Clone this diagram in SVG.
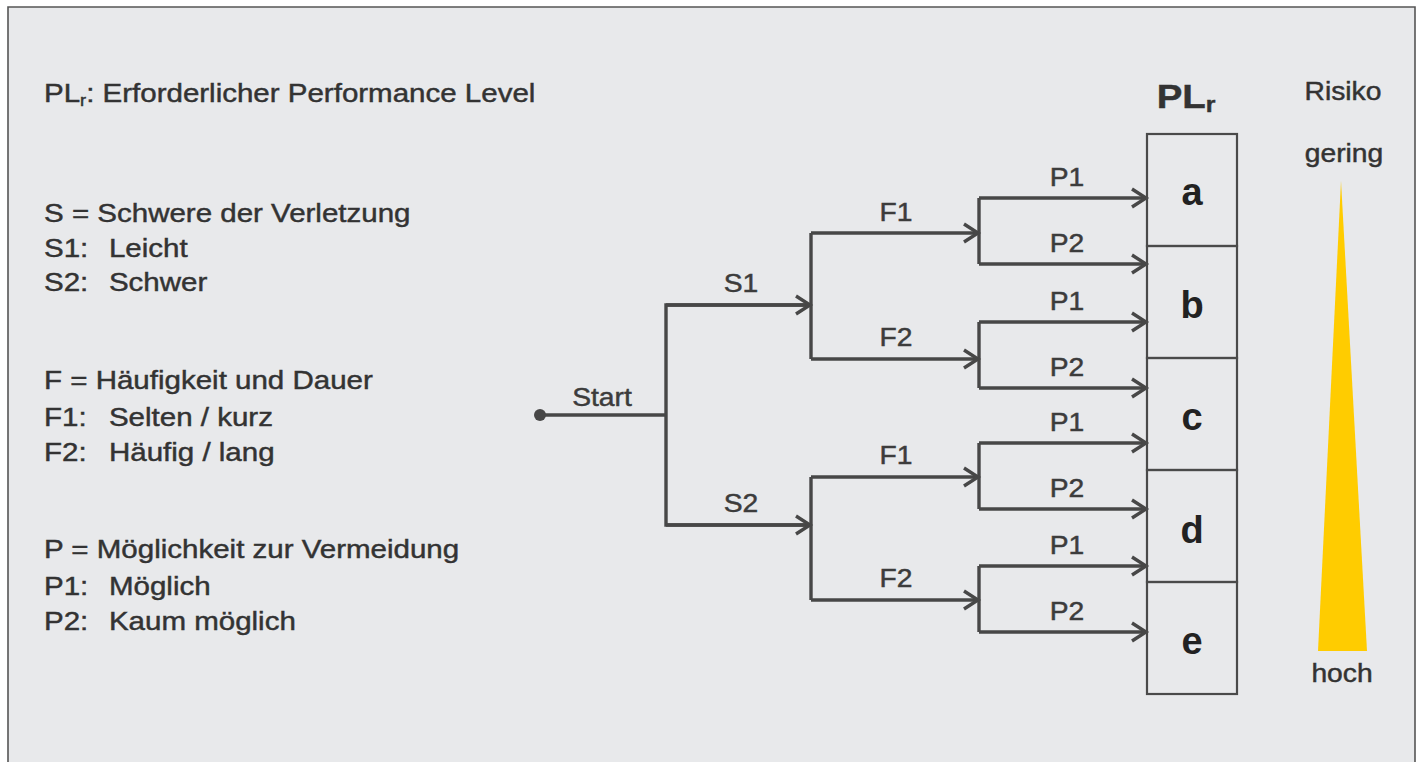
<svg xmlns="http://www.w3.org/2000/svg" width="1418" height="762" viewBox="0 0 1418 762">
<defs>
<marker id="arr" markerUnits="userSpaceOnUse" markerWidth="20" markerHeight="22" refX="16" refY="10" orient="auto" viewBox="0 0 20 20">
<path d="M2,1 L16,10 L2,19" fill="none" stroke="#474747" stroke-width="3.4"/>
</marker>
</defs>
<style>
.t{font-family:"Liberation Sans",Arial,sans-serif;fill:#333;stroke:#333;stroke-width:0.45;}
.leg{font-size:26px;}
.lbl{font-size:25px;text-anchor:middle;fill:#3c3c3c;stroke:#3c3c3c;}
.lvl{font-size:38px;font-weight:bold;text-anchor:middle;fill:#222;stroke:none;}
.ln{fill:none;stroke:#474747;stroke-width:3.4;}
.box{fill:none;stroke:#4a4a4a;stroke-width:2.2;}
</style>
<rect x="0" y="0" width="1418" height="762" fill="#fff"/>
<rect x="8" y="7" width="1407" height="760" fill="#e8e9eb"/>
<path d="M8,762 V7 H1415 V762" fill="none" stroke="#555" stroke-width="1.6"/>

<g id="legend" class="t leg" transform="scale(1.135,1)">
<text x="38.8" y="102">PL<tspan font-size="16" dy="4">r</tspan><tspan dy="-4">: Erforderlicher Performance Level</tspan></text>
<text x="38.8" y="222">S = Schwere der Verletzung</text>
<text y="257"><tspan x="38.8">S1:</tspan><tspan x="96">Leicht</tspan></text>
<text y="291"><tspan x="38.8">S2:</tspan><tspan x="96">Schwer</tspan></text>
<text x="38.8" y="389">F = Häufigkeit und Dauer</text>
<text y="426"><tspan x="38.8">F1:</tspan><tspan x="96">Selten / kurz</tspan></text>
<text y="461"><tspan x="38.8">F2:</tspan><tspan x="96">Häufig / lang</tspan></text>
<text x="38.8" y="558">P = Möglichkeit zur Vermeidung</text>
<text y="595"><tspan x="38.8">P1:</tspan><tspan x="96">Möglich</tspan></text>
<text y="630"><tspan x="38.8">P2:</tspan><tspan x="96">Kaum möglich</tspan></text>
</g>

<g id="connectors">
<circle cx="540" cy="415" r="6" fill="#474747"/>
<path class="ln" d="M540,415 H666"/>
<path class="ln" d="M811,305 H666 V525 H811" />
<path class="ln" d="M666,305 H810" marker-end="url(#arr)"/>
<path class="ln" d="M666,525 H810" marker-end="url(#arr)"/>
<path class="ln" d="M811,233 V359"/>
<path class="ln" d="M811,233 H978" marker-end="url(#arr)"/>
<path class="ln" d="M811,359 H978" marker-end="url(#arr)"/>
<path class="ln" d="M811,477 V600"/>
<path class="ln" d="M811,477 H978" marker-end="url(#arr)"/>
<path class="ln" d="M811,600 H978" marker-end="url(#arr)"/>
<path class="ln" d="M979,198 V264"/>
<path class="ln" d="M979,198 H1146" marker-end="url(#arr)"/>
<path class="ln" d="M979,264 H1146" marker-end="url(#arr)"/>
<path class="ln" d="M979,322 V388"/>
<path class="ln" d="M979,322 H1146" marker-end="url(#arr)"/>
<path class="ln" d="M979,388 H1146" marker-end="url(#arr)"/>
<path class="ln" d="M979,443 V509"/>
<path class="ln" d="M979,443 H1146" marker-end="url(#arr)"/>
<path class="ln" d="M979,509 H1146" marker-end="url(#arr)"/>
<path class="ln" d="M979,566 V632"/>
<path class="ln" d="M979,566 H1146" marker-end="url(#arr)"/>
<path class="ln" d="M979,632 H1146" marker-end="url(#arr)"/>
</g>

<g id="labels" class="t lbl">
<text transform="translate(602,406) scale(1.13,1)">Start</text>
<text transform="translate(741,292) scale(1.13,1)">S1</text>
<text transform="translate(741,512) scale(1.13,1)">S2</text>
<text transform="translate(896,221) scale(1.13,1)">F1</text>
<text transform="translate(896,346) scale(1.13,1)">F2</text>
<text transform="translate(896,464) scale(1.13,1)">F1</text>
<text transform="translate(896,587) scale(1.13,1)">F2</text>
<text transform="translate(1067,186) scale(1.13,1)">P1</text>
<text transform="translate(1067,252) scale(1.13,1)">P2</text>
<text transform="translate(1067,310) scale(1.13,1)">P1</text>
<text transform="translate(1067,376) scale(1.13,1)">P2</text>
<text transform="translate(1067,431) scale(1.13,1)">P1</text>
<text transform="translate(1067,497) scale(1.13,1)">P2</text>
<text transform="translate(1067,554) scale(1.13,1)">P1</text>
<text transform="translate(1067,620) scale(1.13,1)">P2</text>
</g>

<g id="plr-title"><text class="t" transform="translate(1186,108) scale(1.13,1)" text-anchor="middle" font-size="34" font-weight="bold" fill="#222" stroke="none">PL<tspan font-size="22" dy="4">r</tspan></text></g>
<g id="level-a"><rect class="box" x="1147" y="134" width="90" height="112"/><text class="t lvl" x="1192" y="205">a</text></g>
<g id="level-b"><rect class="box" x="1147" y="246" width="90" height="112"/><text class="t lvl" x="1192" y="318">b</text></g>
<g id="level-c"><rect class="box" x="1147" y="358" width="90" height="112"/><text class="t lvl" x="1192" y="430">c</text></g>
<g id="level-d"><rect class="box" x="1147" y="470" width="90" height="112"/><text class="t lvl" x="1192" y="543">d</text></g>
<g id="level-e"><rect class="box" x="1147" y="582" width="90" height="112"/><text class="t lvl" x="1192" y="654">e</text></g>

<g id="risk" class="t">
<text transform="translate(1343,100) scale(1.13,1)" font-size="25" text-anchor="middle">Risiko</text>
<text transform="translate(1344,162) scale(1.13,1)" font-size="25" text-anchor="middle">gering</text>
<polygon points="1341,181 1367,651 1318,651" fill="#ffcc00" stroke="none"/>
<text transform="translate(1342,682) scale(1.13,1)" font-size="25" text-anchor="middle">hoch</text>
</g>
</svg>
